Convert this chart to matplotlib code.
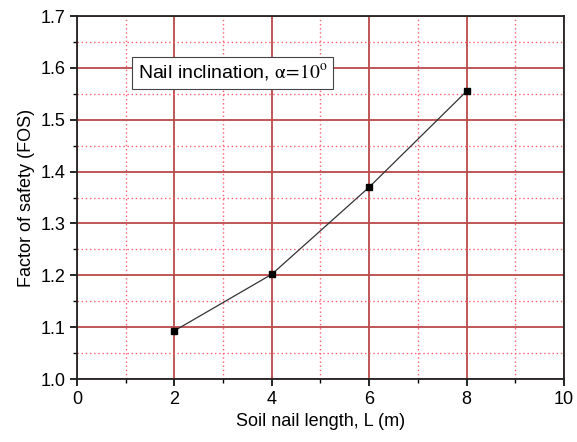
import matplotlib
matplotlib.use("Agg")
import matplotlib.pyplot as plt
from matplotlib.ticker import MultipleLocator

plt.rcParams['font.family'] = ['Liberation Sans', 'DejaVu Sans']
plt.rcParams['mathtext.fontset'] = 'stix'

# nail length (m) and factor of safety
nail_length = [2, 4, 6, 8]
fos = [1.093, 1.202, 1.370, 1.555]

fig = plt.figure(figsize=(5.77, 4.42), dpi=100)
ax = fig.add_axes([0.1334, 0.1425, 0.8441, 0.8213])

ax.plot(nail_length, fos, color='#333333', lw=0.9, marker='s', ms=4.5,
        mfc='black', mec='black', zorder=5)

ax.set_xlim(0, 10)
ax.set_ylim(1.0, 1.7)
ax.xaxis.set_major_locator(MultipleLocator(2))
ax.xaxis.set_minor_locator(MultipleLocator(1))
ax.yaxis.set_major_locator(MultipleLocator(0.1))
ax.yaxis.set_minor_locator(MultipleLocator(0.05))

# grid: solid dark red major, dotted red minor
ax.grid(which='major', color='#bb4a4a', lw=1.3, ls='-')
ax.grid(which='minor', color='#ff6070', lw=1.0, ls=(0, (1, 2)))
ax.set_axisbelow(True)

ax.tick_params(which='major', direction='out', length=5, width=1.2, labelsize=13, colors='black')
ax.tick_params(which='minor', direction='out', length=3, width=1.0)
for s in ax.spines.values():
    s.set_linewidth(1.3)
    s.set_color('#222222')

ax.set_xlabel('Soil nail length, L (m)', fontsize=13)
ax.set_ylabel('Factor of safety (FOS)', fontsize=13)

ax.text(1.25, 1.59, r'Nail inclination, $\mathrm{\alpha}\!=\!10^{\mathrm{o}}$', fontsize=14, va='center', ha='left',
        bbox=dict(boxstyle='square,pad=0.3', fc='white', ec='#444444', lw=0.8), zorder=6)

fig.savefig('out.png', dpi=100)
